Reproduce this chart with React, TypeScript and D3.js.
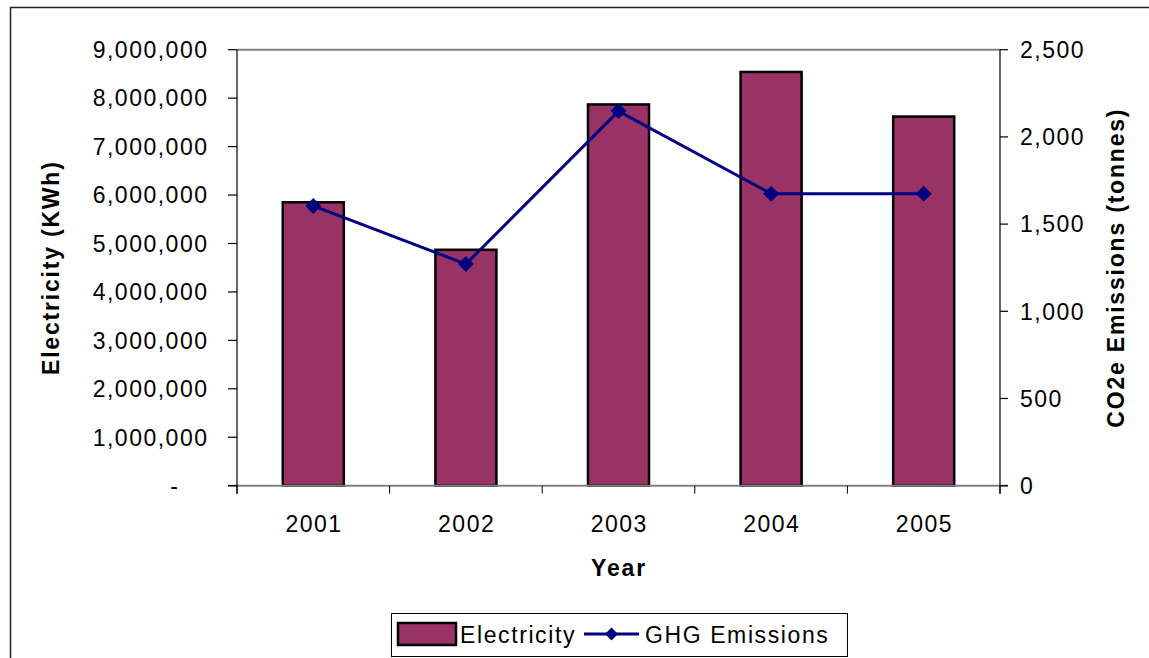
import React from "react";
import * as d3 from "d3";

const years = ["2001", "2002", "2003", "2004", "2005"];
const electricity = [5850000, 4870000, 7870000, 8540000, 7620000];
const ghg = [1604, 1271, 2148, 1674, 1674];
const leftTicks = [0, 1000000, 2000000, 3000000, 4000000, 5000000, 6000000, 7000000, 8000000, 9000000];
const rightTicks = [0, 500, 1000, 1500, 2000, 2500];

const W = 1149;
const H = 658;
const plot = { left: 237, right: 1000, top: 49.7, bottom: 485.7 };
const FONT = "'Liberation Sans', Arial, sans-serif";
const BAR = "#993366";
const LINE = "#000080";

function diamond(cx: number, cy: number, r: number) {
  return `M${cx},${cy - r}L${cx + r},${cy}L${cx},${cy + r}L${cx - r},${cy}Z`;
}

export default function App() {
  const x = d3.scaleBand<string>().domain(years).range([plot.left, plot.right]).paddingInner(0.6).paddingOuter(0.3);
  const yL = d3.scaleLinear().domain([0, 9000000]).range([plot.bottom, plot.top]);
  const yR = d3.scaleLinear().domain([0, 2500]).range([plot.bottom, plot.top]);
  const fmt = d3.format(",");
  const step = x.step();
  const center = (c: string) => (x(c) as number) + x.bandwidth() / 2;
  const line = d3
    .line<number>()
    .x((_, i) => center(years[i]))
    .y((d) => yR(d));
  const boundaries = d3.range(years.length + 1).map((i) => plot.left + i * step);

  const LS = 1.5;
  const tickStyle: React.CSSProperties = { fontFamily: FONT, fontSize: 23, letterSpacing: LS };
  const legendStyle: React.CSSProperties = { fontFamily: FONT, fontSize: 23, letterSpacing: 1.6 };
  const titleStyle: React.CSSProperties = { fontFamily: FONT, fontSize: 23, fontWeight: "bold", letterSpacing: 1.8 };

  return (
    <svg width={W} height={H} style={{ position: "absolute", left: 0, top: 0, background: "#fff" }}>
      <rect x={10.5} y={7.5} width={1300} height={800} fill="#fff" stroke="#222" strokeWidth={1.5} />

      {/* bars */}
      {electricity.map((v, i) => (
        <rect
          key={years[i]}
          x={x(years[i])}
          y={yL(v)}
          width={x.bandwidth()}
          height={plot.bottom - yL(v)}
          fill={BAR}
          stroke="#000"
          strokeWidth={2.5}
        />
      ))}

      {/* plot frame */}
      <line x1={plot.left} x2={plot.right} y1={plot.top} y2={plot.top} stroke="#808080" strokeWidth={2} />
      <line x1={228} x2={1008} y1={plot.bottom} y2={plot.bottom} stroke="#808080" strokeWidth={2} />
      <line x1={plot.left} x2={plot.left} y1={plot.top} y2={plot.bottom + 8} stroke="#000" strokeWidth={1.2} />
      <line x1={plot.right} x2={plot.right} y1={plot.top} y2={plot.bottom + 8} stroke="#000" strokeWidth={1.2} />

      {/* left axis ticks */}
      {leftTicks.map((t) => (
        <g key={"l" + t}>
          <line x1={228} x2={plot.left} y1={yL(t)} y2={yL(t)} stroke="#000" strokeWidth={1.2} />
          <text
            x={(t === 0 ? 178 : 207) + LS}
            y={yL(t)}
            dy="0.36em"
            textAnchor="end"
            style={tickStyle}
          >
            {t === 0 ? "-" : fmt(t)}
          </text>
        </g>
      ))}

      {/* right axis ticks */}
      {rightTicks.map((t) => (
        <g key={"r" + t}>
          <line x1={plot.right} x2={1008} y1={yR(t)} y2={yR(t)} stroke="#000" strokeWidth={1.2} />
          <text x={1020} y={yR(t)} dy="0.36em" textAnchor="start" style={tickStyle}>
            {fmt(t)}
          </text>
        </g>
      ))}

      {/* category ticks */}
      {boundaries.map((b, i) => (
        <line key={"b" + i} x1={b} x2={b} y1={plot.bottom} y2={plot.bottom + 8} stroke="#000" strokeWidth={1} />
      ))}
      {years.map((c) => (
        <text key={"c" + c} x={center(c) + LS / 2} y={532} textAnchor="middle" style={tickStyle}>
          {c}
        </text>
      ))}

      {/* GHG line */}
      <path d={line(ghg) || ""} fill="none" stroke={LINE} strokeWidth={3} />
      {ghg.map((v, i) => (
        <path key={"m" + i} d={diamond(center(years[i]), yR(v), 8)} fill={LINE} />
      ))}

      {/* axis titles */}
      <text x={619} y={576} textAnchor="middle" style={titleStyle}>
        Year
      </text>
      <text transform={`translate(59,${(plot.top + plot.bottom) / 2}) rotate(-90)`} textAnchor="middle" style={titleStyle}>
        Electricity (KWh)
      </text>
      <text transform={`translate(1124,${(plot.top + plot.bottom) / 2}) rotate(-90)`} textAnchor="middle" style={titleStyle}>
        CO2e Emissions (tonnes)
      </text>

      {/* legend */}
      <rect x={391.5} y={613.5} width={456} height={43} fill="#fff" stroke="#000" strokeWidth={1} />
      <rect x={398} y={623} width={58} height={22} fill={BAR} stroke="#000" strokeWidth={2.5} />
      <text x={460} y={642.5} style={legendStyle}>
        Electricity
      </text>
      <line x1={584} x2={639} y1={634} y2={634} stroke={LINE} strokeWidth={3} />
      <path d={diamond(611.5, 634, 6.5)} fill={LINE} />
      <text x={645} y={642.5} style={legendStyle}>
        GHG Emissions
      </text>
    </svg>
  );
}
